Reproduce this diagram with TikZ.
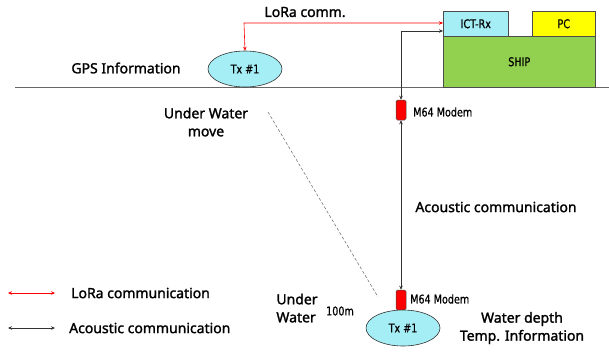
\documentclass[tikz,border=0pt]{standalone}
\usepackage{fontspec}
\setmainfont{Noto Sans}[BoldFont={Noto Sans}, BoldFeatures={FakeBold=1.6}]
\newfontfamily\cond{DejaVu Sans}[FakeStretch=0.8, FakeBold=0.8]
\usetikzlibrary{arrows.meta,shapes.geometric}
\definecolor{cyanbox}{HTML}{A6EEF6}
\definecolor{shipgreen}{HTML}{92D050}
\definecolor{pcyellow}{HTML}{FFFF00}
\definecolor{modemred}{HTML}{FF0000}
\tikzset{
  lbl/.style={font=\bfseries\fontsize{14}{18}\selectfont, align=center, inner sep=0pt},
  boxfont/.style={font=\cond\fontsize{12}{13}\selectfont},
  boxlbl/.style={boxfont, inner sep=0pt},
  txell/.style={ellipse, draw=black!80, fill=cyanbox, line width=0.6pt, minimum width=74pt, minimum height=36pt, inner sep=0pt, boxfont},
  modem/.style={draw=black!70, fill=modemred, rounded corners=1.5pt, minimum width=10pt, minimum height=20pt, inner sep=0pt, line width=0.5pt},
  shipbox/.style={draw=black!70, line width=0.5pt, inner sep=0pt, anchor=north west, boxfont},
  lora/.style={red, line width=0.6pt, {Stealth[length=4pt,width=3.5pt]}-{Stealth[length=4pt,width=3.5pt]}},
  acou/.style={black!80, line width=0.6pt, {Stealth[length=4pt,width=3.5pt]}-{Stealth[length=4pt,width=3.5pt]}},
}
\begin{document}
\begin{tikzpicture}[x=1pt,y=-1pt]
\useasboundingbox (0,0) rectangle (609,351);
% water line
\draw[black!60, line width=0.8pt] (15,87) -- (609,87);
% ship
\node[shipbox, fill=shipgreen, minimum width=152pt, minimum height=51pt] (ship) at (443,36) {SHIP};
\node[shipbox, fill=cyanbox, minimum width=65pt, minimum height=25pt] (ict) at (443,11) {ICT-Rx};
\node[shipbox, fill=pcyellow, minimum width=63pt, minimum height=25pt] (pc) at (532,11) {PC};
% Tx top
\node[txell] (tx1) at (245,69) {Tx \#1};
% modems
\node[modem] (m1) at (401,110) {};
\node[modem] (m2) at (401,300) {};
\node[txell] (tx2) at (403,328) {Tx \#1};
\node[boxlbl, anchor=west] (m1l) at (413,112) {M64 Modem};
\node[boxlbl, anchor=west] (m2l) at (410,299) {M64 Modem};
% LoRa
\coordinate (lc) at (244,23);
\draw[lora] (ict.west |- 0,23) -- (lc) -- (tx1.north);
\node[lbl] (loral) at (305,12) {LoRa comm.};
% acoustic to ship
\coordinate (ac) at (401,31);
\draw[acou] (ict.west |- 0,31) -- (ac) -- (m1.north);
\draw[acou] (m1.south) -- (m2.north);
\node[lbl] (acl) at (496,207) {Acoustic communication};
% dashed
\coordinate (d1) at (268,112);
\coordinate (d2) at (378,297);
\draw[black!60, dashed, dash pattern=on 3pt off 2pt, line width=0.5pt] (d1) -- (d2);
% labels
\node[lbl] (gps) at (126,68) {GPS Information};
\node[lbl] (uwm) at (206,122) {Under Water\\move};
\node[lbl, align=left] (uw) at (297,308) {Under\\Water};
\node[boxlbl] (dep) at (340,311) {100m};
\node[lbl] (wd) at (522,328) {Water depth\\Temp. Information};
% legend
\coordinate (la) at (8,293);
\coordinate (lb) at (55,293);
\draw[lora] (la) -- (lb);
\node[lbl, anchor=west] (legl) at (71,293) {LoRa communication};
\coordinate (aa) at (8,328);
\coordinate (ab) at (55,328);
\draw[acou] (aa) -- (ab);
\node[lbl, anchor=west] (lega) at (69,328) {Acoustic communication};
\end{tikzpicture}
\end{document}
